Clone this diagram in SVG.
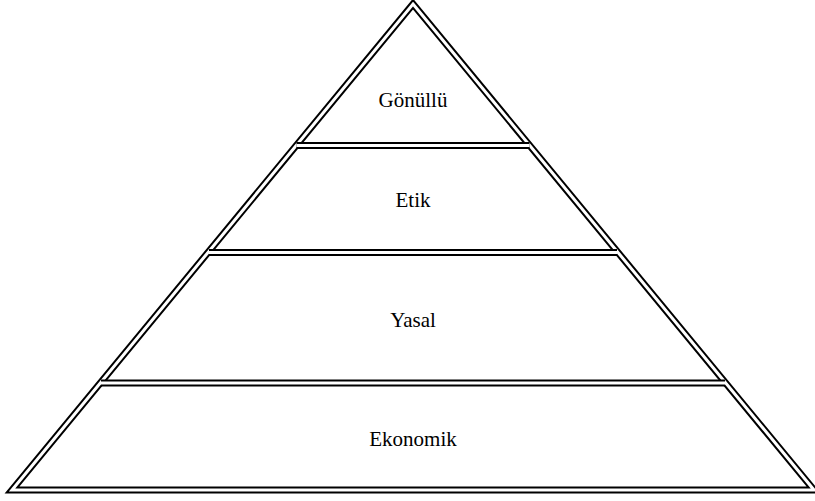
<svg xmlns="http://www.w3.org/2000/svg" width="815" height="501" viewBox="0 0 815 501">
<style>
.blk{fill:none;stroke:#000;stroke-width:7;stroke-linejoin:miter;stroke-miterlimit:10}
.wht{fill:none;stroke:#fff;stroke-width:3;stroke-linejoin:miter;stroke-miterlimit:10}
.lbl{font-family:"Liberation Serif","DejaVu Serif",serif;font-size:21px;fill:#000;text-anchor:middle}
</style>
<rect width="815" height="501" fill="#fff"/>
<g id="pyramid">
<path class="blk" d="M413,4 L814,490 L12,490 Z"/>
<path class="wht" d="M413,4 L814,490 L12,490 Z"/>
</g>
<g id="connectors">
<path class="blk" d="M296.5,145.5 H529.5 M209,252.5 H617 M101,383 H725"/>
<path class="wht" d="M296.5,145.5 H529.5 M209,252.5 H617 M101,383 H725"/>
</g>
<g id="gonullu"><text class="lbl" x="413" y="107">Gönüllü</text></g>
<g id="etik"><text class="lbl" x="413" y="207">Etik</text></g>
<g id="yasal"><text class="lbl" x="413" y="327">Yasal</text></g>
<g id="ekonomik"><text class="lbl" x="413" y="446">Ekonomik</text></g>
</svg>
